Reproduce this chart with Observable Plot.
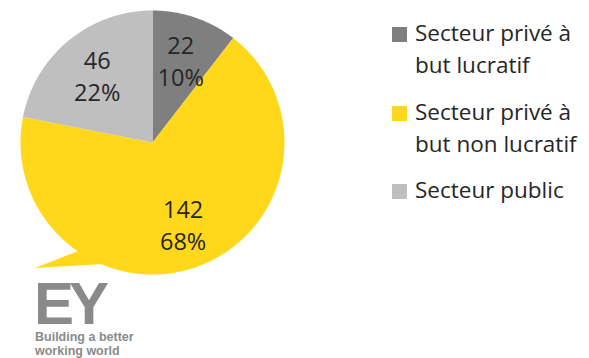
<!DOCTYPE html>
<html><head><meta charset="utf-8">
<script src="https://cdn.jsdelivr.net/npm/d3@7"></script>
<script src="https://cdn.jsdelivr.net/npm/@observablehq/plot@0.6"></script>
<style>
body{margin:0;background:#fff;}
#wrap{position:relative;width:589px;height:358px;overflow:hidden;font-family:"Open Sans",sans-serif;}
#wrap > svg.plot{position:absolute;left:0;top:0;}
#legend{position:absolute;left:392px;top:17px;color:#262626;font-size:22.5px;line-height:32px;}
.item{position:relative;padding-left:23px;margin-bottom:14.5px;white-space:nowrap;}
.sw{position:absolute;left:0;top:10px;width:15px;height:15px;}
#beam{position:absolute;left:0;top:0;}
#ey{position:absolute;left:34px;top:282px;color:#8a8a8a;font-family:"Liberation Sans",Arial,sans-serif;font-weight:bold;font-size:60px;letter-spacing:-5px;line-height:44px;height:44px;}
#tag{position:absolute;left:35px;top:330px;color:#8a8a8a;font-family:"Liberation Sans",Arial,sans-serif;font-weight:bold;font-size:12.5px;line-height:14px;white-space:nowrap;}
</style></head><body><div id="wrap"></div>
<script>
const categories = ["Secteur privé à but lucratif", "Secteur privé à but non lucratif", "Secteur public"];
const values = [22, 142, 46];
const percents = ["10%", "68%", "22%"];
const colors = ["#7f7f7f", "#ffd81c", "#bfbfbf"];
const legendLines = [["Secteur privé à", "but lucratif"], ["Secteur privé à", "but non lucratif"], ["Secteur public"]];

const total = d3.sum(values);
const pts = [], labels = [];
let acc = 0;
values.forEach((v, i) => {
  const a0 = acc / total * 2 * Math.PI, a1 = (acc + v) / total * 2 * Math.PI;
  acc += v;
  pts.push({name: categories[i], x: 0, y: 0});
  const n = Math.max(2, Math.ceil((a1 - a0) / 0.01));
  for (let k = 0; k <= n; k++) {
    const t = a0 + (a1 - a0) * k / n;
    pts.push({name: categories[i], x: Math.sin(t), y: Math.cos(t)});
  }
  pts.push({name: categories[i], x: 0, y: 0});
  const m = (a0 + a1) / 2, r = 0.66;
  labels.push({x: r * Math.sin(m), y: r * Math.cos(m), text: values[i] + "\n" + percents[i]});
});

const plot = Plot.plot({
  width: 589, height: 358,
  marginLeft: 20, marginRight: 305, marginTop: 10, marginBottom: 84,
  x: {domain: [-1, 1], axis: null},
  y: {domain: [-1, 1], axis: null},
  color: {domain: categories, range: colors},
  style: {fontFamily: "'Open Sans', sans-serif", background: "transparent"},
  marks: [
    Plot.line(pts, {x: "x", y: "y", z: "name", fill: "name", stroke: "none", curve: "linear"}),
    Plot.text(labels, {x: "x", y: "y", text: "text", fontSize: 23.5, lineHeight: 1.36, fill: "#262626"})
  ]
});
const wrap = document.getElementById("wrap");
// EY logo beam (decoration)
wrap.insertAdjacentHTML("beforeend",
  `<svg id="beam" width="589" height="358"><polygon points="35,268 78,251 104,264" fill="${colors[1]}"/></svg>`);
wrap.appendChild(plot);
const legend = document.createElement("div");
legend.id = "legend";
legendLines.forEach((lines, i) => {
  const it = document.createElement("div");
  it.className = "item";
  it.innerHTML = `<span class="sw" style="background:${colors[i]}"></span>` + lines.join("<br>");
  legend.appendChild(it);
});
wrap.appendChild(legend);
wrap.insertAdjacentHTML("beforeend",
  `<div id="ey">EY</div><div id="tag">Building a better<br>working world</div>`);
</script>
</body></html>
